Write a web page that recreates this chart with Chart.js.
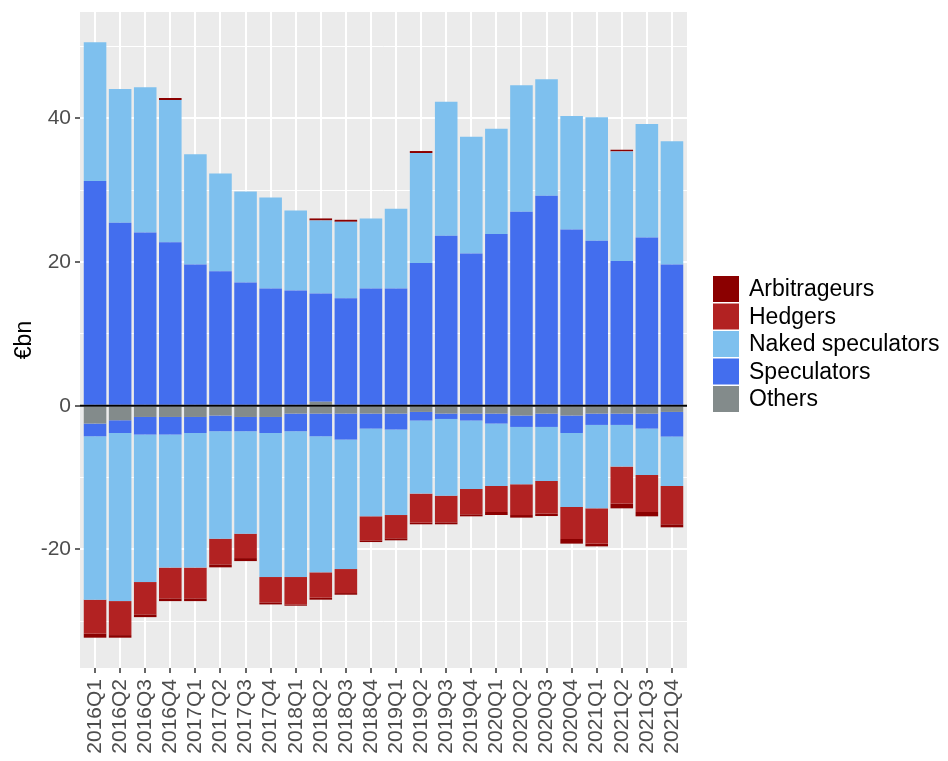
<!DOCTYPE html>
<html>
<head>
<meta charset="utf-8">
<title>Positions by sector</title>
<script src="https://cdn.jsdelivr.net/npm/chart.js@4/dist/chart.umd.min.js"></script>
<style>
    body { margin: 0; background: #ffffff; }
    canvas { display: block; }
</style>
</head>
<body>
<canvas id="positionsChart" width="948" height="761"></canvas>
<script>
// Quarters on the x axis
const quarters = ["2016Q1", "2016Q2", "2016Q3", "2016Q4", "2017Q1", "2017Q2", "2017Q3", "2017Q4",
    "2018Q1", "2018Q2", "2018Q3", "2018Q4", "2019Q1", "2019Q2", "2019Q3", "2019Q4",
    "2020Q1", "2020Q2", "2020Q3", "2020Q4", "2021Q1", "2021Q2", "2021Q3", "2021Q4"];

// Long positions (above zero), €bn
const othersLong = [0, 0, 0, 0, 0, 0, 0, 0, 0, 0.55, 0, 0, 0, 0, 0, 0, 0, 0, 0, 0, 0, 0, 0, 0];
const speculatorsLong = [31.27, 25.46, 24.12, 22.77, 19.67, 18.73, 17.16, 16.32, 16.04, 15.08, 14.97, 16.32,
    16.32, 19.85, 23.65, 21.2, 23.89, 26.99, 29.22, 24.54, 22.95, 20.13, 23.43, 19.67];
const nakedLong = [19.31, 18.62, 20.2, 19.78, 15.32, 13.61, 12.67, 12.68, 11.15, 10.16, 10.63, 9.75,
    11.09, 15.32, 18.66, 16.24, 14.66, 17.61, 16.21, 15.78, 17.19, 15.27, 15.78, 17.13];
const hedgersLong = [0, 0, 0, 0, 0, 0, 0, 0, 0, 0, 0, 0, 0, 0, 0, 0, 0, 0, 0, 0, 0, 0, 0, 0];
const arbitrageursLong = [0, 0, 0, 0.28, 0, 0, 0, 0, 0, 0.28, 0.28, 0, 0, 0.28, 0, 0, 0, 0, 0, 0, 0, 0.23, 0, 0];

// Short positions (below zero), €bn
const othersShort = [-2.48, -2.02, -1.56, -1.56, -1.56, -1.36, -1.56, -1.56, -1.09, -1.09, -1.09, -1.09,
    -1.09, -0.86, -1.09, -1.09, -1.09, -1.36, -1.09, -1.36, -1.09, -1.09, -1.09, -0.86];
const speculatorsShort = [-1.77, -1.77, -2.45, -2.45, -2.23, -2.19, -1.99, -2.23, -2.46, -3.16, -3.62, -2.09,
    -2.22, -1.2, -0.75, -0.97, -1.39, -1.59, -1.86, -2.43, -1.58, -1.58, -2.09, -3.43];
const nakedShort = [-22.74, -23.4, -20.53, -18.52, -18.74, -14.95, -14.25, -20.05, -20.29, -18.94, -18.02, -12.21,
    -11.9, -10.17, -10.67, -9.53, -8.69, -7.98, -7.52, -10.3, -11.61, -5.8, -6.46, -6.88];
const hedgersShort = [-4.74, -4.73, -4.5, -4.28, -4.28, -3.58, -3.4, -3.53, -3.81, -3.52, -3.34, -3.34,
    -3.24, -4.04, -3.72, -3.52, -3.62, -4.28, -4.54, -4.46, -4.91, -5.15, -5.15, -5.33];
const arbitrageursShort = [-0.55, -0.36, -0.38, -0.38, -0.38, -0.41, -0.42, -0.28, -0.18, -0.28, -0.23, -0.24,
    -0.28, -0.23, -0.27, -0.28, -0.42, -0.36, -0.34, -0.64, -0.38, -0.66, -0.6, -0.42];

// y axis ticks
const yTicks = [-30, -20, -10, 0, 10, 20, 30, 40, 50];

// Sectors in stacking order (closest to zero first)
const sectors = ["Others", "Speculators", "Naked speculators", "Hedgers", "Arbitrageurs"];
const sectorColours = ["#838B8B", "#436EEE", "#7EC0EE", "#B22222", "#8B0000"];
const longSeries = [othersLong, speculatorsLong, nakedLong, hedgersLong, arbitrageursLong];
const shortSeries = [othersShort, speculatorsShort, nakedShort, hedgersShort, arbitrageursShort];

const FONT = "'Liberation Sans', Arial, sans-serif";

(function () {
    function toPoints(values) {
        return values.map((v, i) => ({ x: i, y: v }));
    }

    function makeDataset(label, colour, values, side) {
        return {
            label: label,
            side: side,
            data: toPoints(values),
            backgroundColor: colour,
            borderWidth: 0,
            barPercentage: 0.9,
            categoryPercentage: 1.0,
        };
    }

    var datasets = [];
    sectors.forEach((name, k) => datasets.push(makeDataset(name, sectorColours[k], longSeries[k], "long")));
    sectors.forEach((name, k) => datasets.push(makeDataset(name, sectorColours[k], shortSeries[k], "short")));

    // Grey ggplot-like panel behind the bars
    const panelBackground = {
        id: "panelBackground",
        beforeDraw(chart) {
            const { ctx, chartArea } = chart;
            ctx.save();
            ctx.fillStyle = "#EBEBEB";
            ctx.fillRect(chartArea.left, chartArea.top, chartArea.right - chartArea.left, chartArea.bottom - chartArea.top);
            ctx.restore();
        }
    };

    // Black line at zero
    const zeroLine = {
        id: "zeroLine",
        afterDatasetsDraw(chart) {
            const { ctx, chartArea } = chart;
            const y = chart.scales.y.getPixelForValue(0);
            ctx.save();
            ctx.strokeStyle = "#000000";
            ctx.lineWidth = 2;
            ctx.beginPath();
            ctx.moveTo(chartArea.left, y);
            ctx.lineTo(chartArea.right, y);
            ctx.stroke();
            ctx.restore();
        }
    };

    // Legend on the right, one key per sector, top to bottom in reverse stacking order
    const sectorLegend = {
        id: "sectorLegend",
        afterDraw(chart) {
            const ctx = chart.ctx;
            const boxX = 713, boxSize = 26, startY = 276, step = 27.5;
            ctx.save();
            ctx.font = "23px " + FONT;
            ctx.textBaseline = "middle";
            ctx.textAlign = "left";
            for (let k = sectors.length - 1, row = 0; k >= 0; k--, row++) {
                const y = startY + row * step;
                ctx.fillStyle = sectorColours[k];
                ctx.fillRect(boxX, y, boxSize, boxSize);
                ctx.fillStyle = "#000000";
                ctx.fillText(sectors[k], boxX + 36, y + boxSize / 2 + 1);
            }
            ctx.restore();
        }
    };

    var ctx = document.getElementById("positionsChart").getContext("2d");

    new Chart(ctx, {
        type: "bar",
        data: { datasets: datasets },
        options: {
            responsive: false,
            animation: false,
            layout: { padding: { top: 12, right: 261, bottom: 0, left: 0 } },
            plugins: {
                legend: { display: false },
                tooltip: { enabled: false },
            },
            scales: {
                x: {
                    type: "linear",
                    stacked: true,
                    offset: false,
                    min: -0.6,
                    max: 23.6,
                    afterBuildTicks: (scale) => {
                        scale.ticks = quarters.map((q, i) => ({ value: i }));
                    },
                    afterFit: (scale) => {
                        scale.height = 93;
                        scale.paddingLeft = 0;
                        scale.paddingRight = 0;
                    },
                    border: { display: false },
                    grid: {
                        offset: false,
                        color: "#FFFFFF",
                        lineWidth: 2,
                        tickColor: "#333333",
                        tickLength: 5,
                        tickWidth: 1.5,
                    },
                    ticks: {
                        autoSkip: false,
                        minRotation: 90,
                        maxRotation: 90,
                        padding: 6,
                        color: "#4D4D4D",
                        font: { family: FONT, size: 21 },
                        callback: (value) => quarters[value],
                    },
                },
                y: {
                    stacked: true,
                    min: -36.5,
                    max: 54.8,
                    afterBuildTicks: (scale) => {
                        scale.ticks = yTicks.map((v) => ({ value: v }));
                    },
                    afterFit: (scale) => {
                        scale.width = 80;
                        scale.paddingTop = 0;
                        scale.paddingBottom = 0;
                    },
                    border: { display: false },
                    grid: {
                        color: "#FFFFFF",
                        lineWidth: (c) => (c.tick && c.tick.value % 20 === 0 ? 2 : 1),
                        tickColor: (c) => (c.tick && c.tick.value % 20 === 0 ? "#333333" : "rgba(0,0,0,0)"),
                        tickLength: 5,
                        tickWidth: 1.5,
                    },
                    ticks: {
                        autoSkip: false,
                        padding: 4,
                        color: "#4D4D4D",
                        font: { family: FONT, size: 21 },
                        callback: (value) => (value % 20 === 0 ? String(value) : ""),
                    },
                    title: {
                        display: true,
                        text: "€bn",
                        color: "#000000",
                        font: { family: FONT, size: 23 },
                        padding: { top: 11, bottom: 0 },
                    },
                },
            },
        },
        plugins: [panelBackground, zeroLine, sectorLegend],
    });
})();
</script>
</body>
</html>
